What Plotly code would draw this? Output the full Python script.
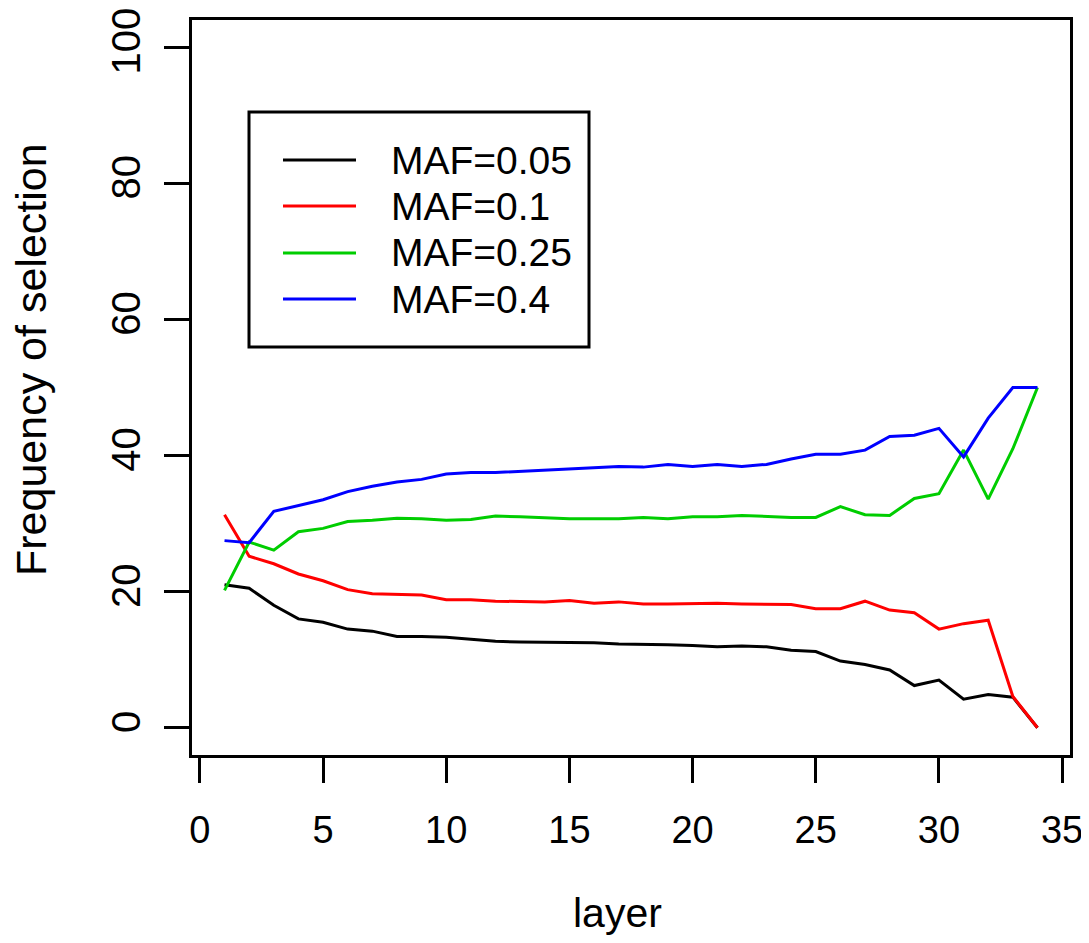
import plotly.graph_objects as go

layers = list(range(1, 35))

maf_005 = [21.0, 20.5, 18.0, 16.0, 15.5, 14.5, 14.2, 13.4, 13.4, 13.3, 13.0, 12.7, 12.6, 12.6, 12.5, 12.5, 12.3,
           12.3, 12.2, 12.1, 11.9, 12.0, 11.9, 11.4, 11.2, 9.8, 9.3, 8.5, 6.2, 7.0, 4.2, 4.9, 4.5, 0.0]
maf_01 = [31.3, 25.2, 24.1, 22.6, 21.6, 20.3, 19.7, 19.6, 19.5, 18.8, 18.8, 18.6, 18.6, 18.5, 18.7, 18.3, 18.5,
          18.2, 18.2, 18.3, 18.3, 18.2, 18.2, 18.1, 17.5, 17.5, 18.6, 17.3, 16.9, 14.5, 15.3, 15.8, 4.6, 0.0]
maf_025 = [20.2, 27.3, 26.1, 28.8, 29.3, 30.3, 30.5, 30.8, 30.7, 30.5, 30.6, 31.1, 31.0, 30.8, 30.7, 30.7, 30.7,
           30.9, 30.7, 31.0, 31.0, 31.2, 31.0, 30.9, 30.9, 32.5, 31.3, 31.2, 33.7, 34.4, 40.8, 33.6, 41.0, 50.0]
maf_04 = [27.5, 27.2, 31.8, 32.6, 33.5, 34.7, 35.5, 36.1, 36.5, 37.3, 37.5, 37.5, 37.7, 37.9, 38.0, 38.3, 38.4,
          38.3, 38.7, 38.4, 38.7, 38.4, 38.7, 39.5, 40.2, 40.2, 40.8, 42.8, 43.0, 44.0, 39.8, 45.5, 50.0, 50.0]

series_names = ["MAF=0.05", "MAF=0.1", "MAF=0.25", "MAF=0.4"]
series_values = [maf_005, maf_01, maf_025, maf_04]
series_colors = ["#000000", "#FF0000", "#00CD00", "#0000FF"]

x_ticks = [0, 5, 10, 15, 20, 25, 30, 35]
y_ticks = [0, 20, 40, 60, 80, 100]

FONT = "Liberation Sans, Arial, Helvetica, sans-serif"

fig = go.Figure()
for name, vals, col in zip(series_names, series_values, series_colors):
    fig.add_trace(go.Scatter(x=layers, y=vals, mode="lines", name=name,
                             line=dict(color=col, width=3), showlegend=False))

# page offset (body margin) and plot-area geometry in page pixels
OFF = 8
W, H = 1089, 943
L, R, T, B = 192 - OFF, 1070 - OFF, 20 - OFF, 755 - OFF
pw, ph = R - L, B - T


def px(xp):
    return (xp - OFF - L) / pw


def py(yp):
    return (B - (yp - OFF)) / ph


fig.update_layout(
    width=W, height=H,
    margin=dict(l=L, r=W - R, t=T, b=H - B, pad=0, autoexpand=False),
    paper_bgcolor="white", plot_bgcolor="white",
    font=dict(family=FONT, size=38, color="black"),
    xaxis=dict(range=[-0.32, 35.32], tickvals=x_ticks, ticks="outside", ticklen=25, tickwidth=2.5,
               tickcolor="black", showline=True, linecolor="black", linewidth=3, mirror=True,
               showgrid=False, zeroline=False, ticklabelstandoff=14, automargin=False,
               ticklabeloverflow="allow", tickfont=dict(family=FONT, size=38)),
    yaxis=dict(range=[-4, 104], tickvals=y_ticks, ticks="outside", ticklen=25, tickwidth=2.5,
               tickcolor="black", showline=True, linecolor="black", linewidth=3, mirror=True,
               showgrid=False, zeroline=False, tickangle=-90, ticklabelstandoff=8, automargin=False,
               ticklabeloverflow="allow", tickfont=dict(family=FONT, size=40)),
)

# axis titles
fig.add_annotation(text="layer", xref="paper", yref="paper", x=px(617), y=py(913),
                   xanchor="center", yanchor="middle", showarrow=False, font=dict(size=41))
fig.add_annotation(text="Frequency of selection", xref="paper", yref="paper", x=px(31), y=py(360),
                   xanchor="center", yanchor="middle", textangle=-90, showarrow=False, font=dict(size=43))

# legend box
fig.add_shape(type="rect", xref="paper", yref="paper", x0=px(249), x1=px(589), y0=py(347), y1=py(112),
              line=dict(color="black", width=3), fillcolor="white", layer="above")
rows = [160, 206, 253, 299]
for name, col, ry in zip(series_names, series_colors, rows):
    fig.add_shape(type="line", xref="paper", yref="paper", x0=px(283), x1=px(356), y0=py(ry), y1=py(ry),
                  line=dict(color=col, width=3), layer="above")
    fig.add_annotation(text=name, xref="paper", yref="paper", x=px(389), y=py(ry),
                       xanchor="left", yanchor="middle", showarrow=False, font=dict(size=39))

fig.write_html("out.html")
